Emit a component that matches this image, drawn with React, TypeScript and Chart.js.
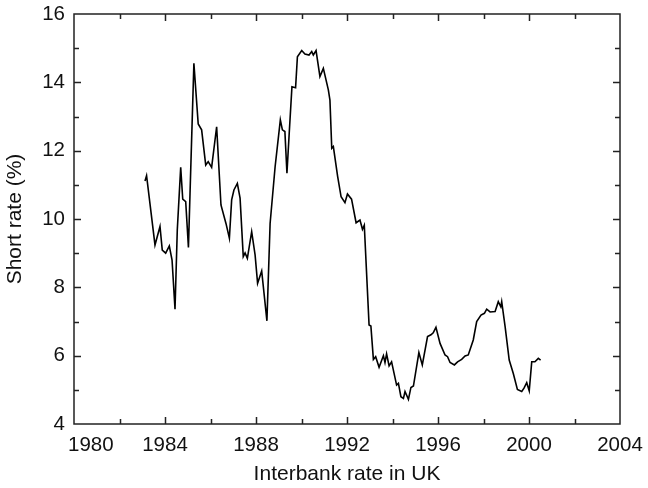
import { useEffect, useRef } from "react";
import { Chart, registerables } from "chart.js";

Chart.register(...registerables);

// UK interbank short rate (%), sampled at irregular dates (decimal years)
const years = [
  1983.12, 1983.19, 1983.56, 1983.78, 1983.88, 1984.03, 1984.19, 1984.31, 1984.44, 1984.54,
  1984.69, 1984.78, 1984.91, 1985.03, 1985.1, 1985.27, 1985.46, 1985.61, 1985.79, 1985.9,
  1986.05, 1986.27, 1986.46, 1986.68, 1986.83, 1986.93, 1987.03, 1987.18, 1987.3, 1987.44,
  1987.52, 1987.62, 1987.81, 1987.96, 1988.07, 1988.25, 1988.48, 1988.62, 1988.84, 1989.07,
  1989.16, 1989.27, 1989.36, 1989.46, 1989.58, 1989.74, 1989.82, 1990.01, 1990.15, 1990.33,
  1990.45, 1990.52, 1990.64, 1990.81, 1990.96, 1991.18, 1991.25, 1991.33, 1991.4, 1991.59,
  1991.74, 1991.91, 1992.02, 1992.2, 1992.4, 1992.57, 1992.68, 1992.76, 1992.97, 1993.05,
  1993.16, 1993.26, 1993.41, 1993.6, 1993.67, 1993.74, 1993.85, 1993.96, 1994.18, 1994.26,
  1994.37, 1994.48, 1994.55, 1994.7, 1994.81, 1994.92, 1995.16, 1995.31, 1995.54, 1995.69,
  1995.79, 1995.91, 1996.09, 1996.31, 1996.42, 1996.53, 1996.72, 1996.86, 1997.04, 1997.19,
  1997.33, 1997.55, 1997.7, 1997.89, 1998.04, 1998.14, 1998.29, 1998.51, 1998.65, 1998.76,
  1998.8, 1998.95, 1999.13, 1999.31, 1999.49, 1999.68, 1999.78, 1999.9, 2000.01, 2000.12,
  2000.26, 2000.41, 2000.51,
];

const rates = [
  11.11, 11.27, 9.24, 9.78, 9.09, 9.0, 9.21, 8.8, 7.36, 9.68,
  11.51, 10.58, 10.51, 9.17, 10.75, 14.56, 12.78, 12.61, 11.58, 11.68,
  11.51, 12.7, 10.41, 9.87, 9.44, 10.56, 10.85, 11.04, 10.61, 8.9,
  9.01, 8.85, 9.63, 8.95, 8.12, 8.48, 7.02, 9.87, 11.53, 12.9,
  12.61, 12.56, 11.34, 12.51, 13.87, 13.84, 14.75, 14.93, 14.83, 14.8,
  14.9, 14.8, 14.93, 14.17, 14.41, 13.78, 13.48, 12.07, 12.12, 11.24,
  10.65, 10.48, 10.73, 10.58, 9.89, 9.97, 9.7, 9.82, 6.9, 6.87,
  5.89, 5.97, 5.66, 6.0, 5.8, 6.05, 5.7, 5.82, 5.14, 5.19,
  4.8, 4.75, 4.95, 4.72, 5.07, 5.11, 6.09, 5.73, 6.56, 6.61,
  6.67, 6.83, 6.36, 6.02, 5.97, 5.8, 5.73, 5.82, 5.89, 5.99,
  6.02, 6.46, 7.0, 7.19, 7.24, 7.36, 7.28, 7.29, 7.58, 7.43,
  7.58, 6.85, 5.87, 5.48, 5.01, 4.95, 5.05, 5.21, 4.97, 5.82,
  5.82, 5.92, 5.87,
];

const xTickValues = [1980, 1984, 1988, 1992, 1996, 2000, 2004];
const yTickValues = [4, 6, 8, 10, 12, 14, 16];

const xTitle = "Interbank rate in UK";
const yTitle = "Short rate (%)";

const FONT = "'Liberation Sans', Arial, Helvetica, sans-serif";
const INK = "#111";
const TICK_SIZE = 20.5;
const TITLE_SIZE = 21;

// Boxed frame with inward-pointing major/minor ticks on all four sides,
// plus the bottom year labels.
const framePlugin = {
  id: "boxFrame",
  afterDraw(chart: any) {
    const { ctx, chartArea: a, scales } = chart;
    const x = scales.x;
    const y = scales.y;
    ctx.save();
    ctx.strokeStyle = "#222";
    ctx.lineWidth = 1.5;
    ctx.strokeRect(a.left, a.top, a.right - a.left, a.bottom - a.top);

    ctx.beginPath();
    const xMin = xTickValues[0];
    const xMax = xTickValues[xTickValues.length - 1];
    for (let v = xMin + 2; v < xMax; v += 2) {
      const px = Math.round(x.getPixelForValue(v)) + 0.5;
      const len = (v - xMin) % 4 === 0 ? 7 : 5;
      ctx.moveTo(px, a.bottom);
      ctx.lineTo(px, a.bottom - len);
      ctx.moveTo(px, a.top);
      ctx.lineTo(px, a.top + len);
    }
    const yMin = yTickValues[0];
    const yMax = yTickValues[yTickValues.length - 1];
    for (let v = yMin + 1; v < yMax; v += 1) {
      const py = Math.round(y.getPixelForValue(v)) + 0.5;
      const len = (v - yMin) % 2 === 0 ? 7 : 5;
      ctx.moveTo(a.left, py);
      ctx.lineTo(a.left + len, py);
      ctx.moveTo(a.right, py);
      ctx.lineTo(a.right - len, py);
    }
    ctx.stroke();

    ctx.fillStyle = INK;
    ctx.font = `${TICK_SIZE}px ${FONT}`;
    ctx.textBaseline = "top";
    ctx.textAlign = "center";
    xTickValues.forEach((v, i) => {
      const label = String(v);
      const px = x.getPixelForValue(v);
      const w = ctx.measureText(label).width;
      const cx = i === 0 ? px - 6 + w / 2 : px;
      ctx.fillText(label, cx, a.bottom + 11);
    });
    ctx.restore();
  },
};

export default function App() {
  const canvasRef = useRef<HTMLCanvasElement | null>(null);

  useEffect(() => {
    const canvas = canvasRef.current;
    if (!canvas) return;
    const points = years.map((yr, i) => ({ x: yr, y: rates[i] }));

    const chart = new Chart(canvas, {
      type: "line",
      data: {
        datasets: [
          {
            data: points,
            borderColor: "#000",
            borderWidth: 1.6,
            pointRadius: 0,
            tension: 0,
            fill: false,
          },
        ],
      },
      options: {
        animation: false,
        responsive: false,
        maintainAspectRatio: false,
        layout: { padding: { top: 14, right: 28, left: 0, bottom: 0 } },
        plugins: {
          legend: { display: false },
          tooltip: { enabled: false },
        },
        scales: {
          x: {
            type: "linear",
            min: xTickValues[0],
            max: xTickValues[xTickValues.length - 1],
            grid: { display: false },
            border: { display: false },
            ticks: { display: false, stepSize: 4 },
            title: {
              display: true,
              text: xTitle,
              color: INK,
              font: { family: FONT, size: TITLE_SIZE },
              padding: { top: 0, bottom: 1 },
            },
            afterFit: (s: any) => {
              s.height = 64;
              s.paddingLeft = 0;
              s.paddingRight = 0;
            },
          },
          y: {
            type: "linear",
            min: yTickValues[0],
            max: yTickValues[yTickValues.length - 1],
            grid: { display: false, drawTicks: false },
            border: { display: false },
            ticks: {
              stepSize: 2,
              padding: 9,
              color: INK,
              font: { family: FONT, size: TICK_SIZE },
            },
            title: {
              display: true,
              text: yTitle,
              color: INK,
              font: { family: FONT, size: TITLE_SIZE },
              padding: { top: 3, bottom: 0 },
            },
            afterFit: (s: any) => {
              s.width = 74;
              s.paddingTop = 0;
              s.paddingBottom = 0;
            },
          },
        },
      },
      plugins: [framePlugin],
    });

    return () => chart.destroy();
  }, []);

  return (
    <div style={{ position: "fixed", left: 0, top: 0, width: 648, height: 488, background: "#fff" }}>
      <canvas ref={canvasRef} width={648} height={488} style={{ display: "block" }} />
    </div>
  );
}
